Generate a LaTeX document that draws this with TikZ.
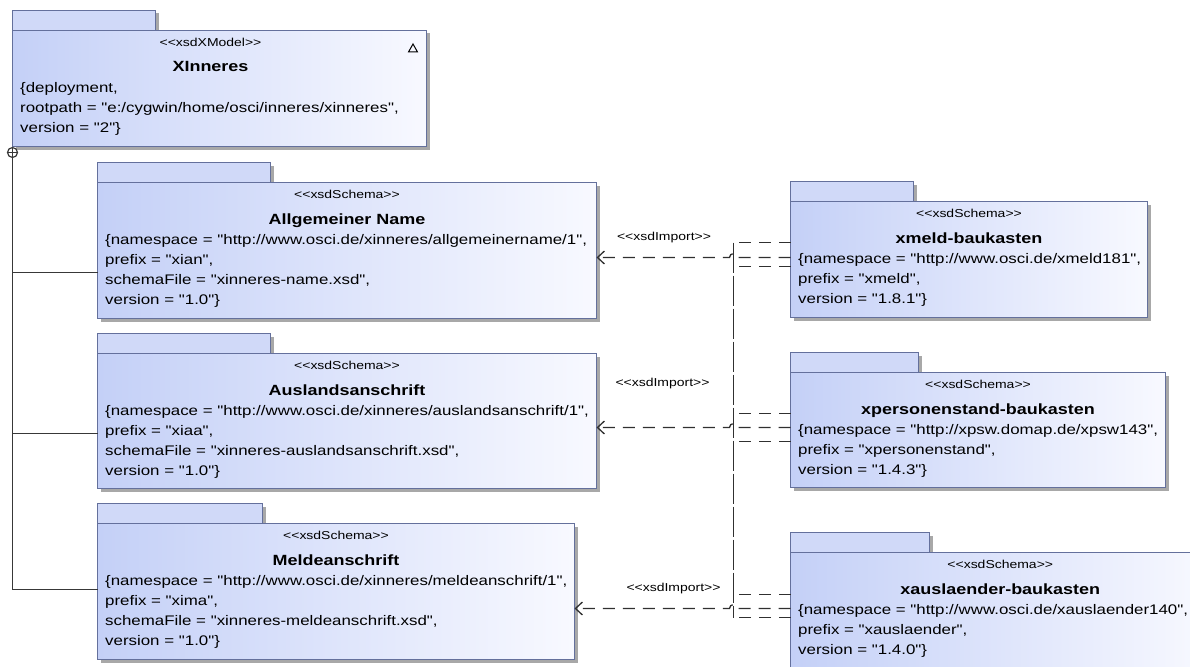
\documentclass[tikz,border=0pt]{standalone}
\usepackage{fontspec}
\setmainfont{Liberation Sans}[FakeStretch=1.215, Ligatures=TeXOff]
\usetikzlibrary{calc,arrows.meta}

\definecolor{pkline}{RGB}{100,112,156}
\definecolor{pkL}{RGB}{196,208,247}
\definecolor{pkR}{RGB}{248,249,255}
\definecolor{pkTab}{RGB}{208,217,248}
\definecolor{pkShadow}{RGB}{168,168,168}
\definecolor{conn}{RGB}{48,48,48}
\definecolor{treeline}{RGB}{56,56,56}

\tikzset{
  pkbody/.style={rectangle, draw=pkline, line width=1.1pt, left color=pkL, right color=pkR,
                 inner sep=0pt, outer sep=0pt},
  pktab/.style={draw=pkline, line width=1.1pt, fill=pkTab},
  pkshade/.style={fill=pkShadow},
  pkstereo/.style={anchor=base, inner sep=0pt, font=\fontsize{11.5}{13}\selectfont},
  pkname/.style={anchor=base, inner sep=0pt, font=\bfseries\fontsize{14.8}{17}\selectfont},
  pkattr/.style={anchor=north west, inner sep=0pt, align=left, font=\fontsize{13.9}{20}\selectfont},
  implabel/.style={inner sep=0pt, font=\fontsize{11.5}{13}\selectfont},
  dep/.style={draw=conn, line width=1.3pt, dash pattern=on 12pt off 8pt},
  trunk/.style={draw=conn, line width=1.3pt, dash pattern=on 30pt off 3pt},
  imparrow/.style={-{Straight Barb[length=7pt,width=13pt,line width=1.3pt]}},
  tree/.style={draw=treeline, line width=1.3pt},
}

% package box: id, left, tab top, tab right, right, bottom, stereotype, name, attributes
\def\pkdx{0}
\newcommand\pkgbox[9]{%
  \pgfmathsetmacro\pkTop{#3+20}%
  \pgfmathsetmacro\pkW{#5-#2}%
  \pgfmathsetmacro\pkH{#6-\pkTop}%
  \fill[pkshade] (#2+3,#3+3) rectangle (#4+3,\pkTop);
  \fill[pkshade] (#2+3,\pkTop+3) rectangle (#5+3,#6+3);
  \filldraw[pktab] (#2,#3) rectangle (#4,\pkTop);
  \node[pkbody, anchor=north west, minimum width=\pkW pt, minimum height=\pkH pt] (#1) at (#2,\pkTop) {};
  \node[pkstereo] (#1-st) at ($(#1.north)+(\pkdx,16.3)$) {#7};
  \node[pkname] (#1-nm) at ($(#1.north)+(\pkdx,41.5)$) {#8};
  \node[pkattr] (#1-at) at (#2+7.5,\pkTop+51.5) {#9};
}

\begin{document}
\begin{tikzpicture}[x=1pt,y=-1pt]
\useasboundingbox (0,0) rectangle (1190,666);
\clip (0,0) rectangle (1190,666);

% model package
\def\pkdx{-9}
\pkgbox{xinneres}{12.5}{10.5}{155.5}{426.5}{146.5}{<<xsdXModel>>}{XInneres}
  {\{deployment,\\rootpath = "e:/cygwin/home/osci/inneres/xinneres",\\version = "2"\}}
\draw[black, line width=1pt, line join=miter] (408.5,52) -- (417.5,52) -- (413,44) -- cycle;
\def\pkdx{0}

% inner schemas
\pkgbox{allg}{97.5}{162.5}{270.5}{596.5}{318.5}{<<xsdSchema>>}{Allgemeiner Name}
  {\{namespace = "http://www.osci.de/xinneres/allgemeinername/1",\\prefix = "xian",\\schemaFile = "xinneres-name.xsd",\\version = "1.0"\}}
\pkgbox{ausl}{97.5}{333.5}{270.5}{596.5}{488.5}{<<xsdSchema>>}{Auslandsanschrift}
  {\{namespace = "http://www.osci.de/xinneres/auslandsanschrift/1",\\prefix = "xiaa",\\schemaFile = "xinneres-auslandsanschrift.xsd",\\version = "1.0"\}}
\pkgbox{meld}{97.5}{503.5}{262.5}{574.5}{659.5}{<<xsdSchema>>}{Meldeanschrift}
  {\{namespace = "http://www.osci.de/xinneres/meldeanschrift/1",\\prefix = "xima",\\schemaFile = "xinneres-meldeanschrift.xsd",\\version = "1.0"\}}

% imported building blocks
\pkgbox{xmeld}{790.5}{181.5}{913.5}{1147.5}{317.5}{<<xsdSchema>>}{xmeld-baukasten}
  {\{namespace = "http://www.osci.de/xmeld181",\\prefix = "xmeld",\\version = "1.8.1"\}}
\pkgbox{xpers}{790.5}{352.5}{918.5}{1165.5}{487.5}{<<xsdSchema>>}{xpersonenstand-baukasten}
  {\{namespace = "http://xpsw.domap.de/xpsw143",\\prefix = "xpersonenstand",\\version = "1.4.3"\}}
\pkgbox{xaus}{790.5}{532.5}{929.5}{1210}{690}{<<xsdSchema>>}{xauslaender-baukasten}
  {\{namespace = "http://www.osci.de/xauslaender140",\\prefix = "xauslaender",\\version = "1.4.0"\}}

% containment tree
\node[circle, draw=treeline, line width=1.2pt, minimum size=10pt, inner sep=0pt, outer sep=0pt] (own) at (12.5,152.5) {};
\draw[tree] (own.west) -- (own.east) (own.north) -- (own.south);
\draw[tree] (own.south) |- (meld.west |- 0,589.5);
\draw[tree] (own.south |- 0,272.5) -- (allg.west |- 0,272.5);
\draw[tree] (own.south |- 0,433.5) -- (ausl.west |- 0,433.5);

% import dependencies
\coordinate (jt) at (733.5,242.5);
\coordinate (jb) at (733.5,617.5);
\draw[trunk] (jt) -- (jb);
\draw[dep] (xmeld.west |- jt) -- (jt);
\draw[dep] (xmeld.west |- 0,266.5) -- (jt |- 0,266.5);
\draw[dep] (xpers.west |- 0,413.5) -- (jt |- 0,413.5);
\draw[dep] (xpers.west |- 0,441.5) -- (jt |- 0,441.5);
\draw[dep] (xaus.west |- 0,594.5) -- (jt |- 0,594.5);
\draw[dep] (xaus.west |- jb) -- (jb);

\draw[dep, imparrow] (xmeld.west |- 0,257.5) -- (737.5,257.5)
  arc[start angle=0, end angle=-180, radius=4] -- (allg.east |- 0,257.5);
\draw[dep, imparrow] (xpers.west |- 0,427.5) -- (737.5,427.5)
  arc[start angle=0, end angle=-180, radius=4] -- (ausl.east |- 0,427.5);
\draw[dep, imparrow] (xaus.west |- 0,608.5) -- (737.5,608.5)
  arc[start angle=0, end angle=-180, radius=4] -- (meld.east |- 0,608.5);

\node[implabel] (imp1) at (664,238) {<<xsdImport>>};
\node[implabel] (imp2) at (662.5,384) {<<xsdImport>>};
\node[implabel] (imp3) at (673.5,589) {<<xsdImport>>};
\end{tikzpicture}
\end{document}
